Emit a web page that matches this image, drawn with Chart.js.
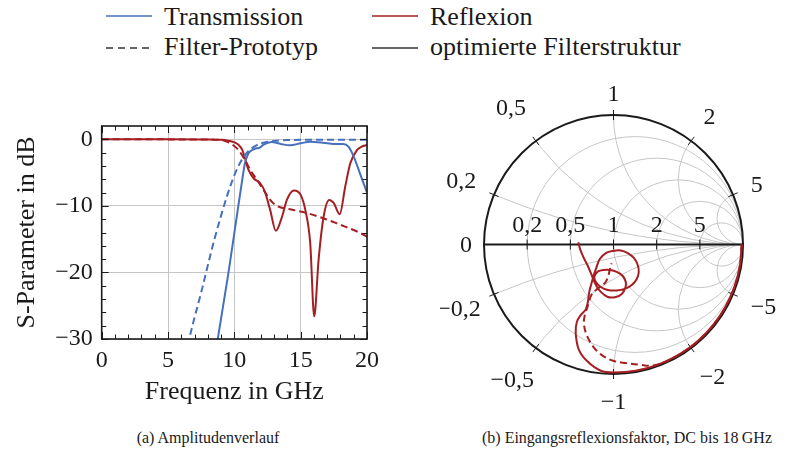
<!DOCTYPE html>
<html>
<head>
<meta charset="utf-8">
<script src="https://cdn.jsdelivr.net/npm/chart.js@4.4.1/dist/chart.umd.min.js"></script>
<style>
  body { margin: 0; width: 786px; height: 454px; background: #fff; position: relative; overflow: hidden;
         font-family: "Liberation Serif", "DejaVu Serif", serif; color: #1a1a1a; }
  canvas { position: absolute; }
  .leg { position: absolute; font-size: 26px; line-height: 26px; white-space: nowrap; }
  .leg svg { position: absolute; left: 0; }
  .leg span { margin-left: 58px; }
  .cap { position: absolute; font-size: 16px; line-height: 16px; white-space: nowrap; transform: translateX(-50%); }
</style>
</head>
<body>

<div class="leg" style="left:106px; top:4px;">
  <svg width="46" height="4" style="top:10px"><line x1="0" y1="2" x2="46" y2="2" stroke="#4670bd" stroke-width="1.4"/></svg>
  <span>Transmission</span>
</div>
<div class="leg" style="left:372px; top:4px;">
  <svg width="46" height="4" style="top:10px"><line x1="0" y1="2" x2="46" y2="2" stroke="#a51e22" stroke-width="1.4"/></svg>
  <span>Reflexion</span>
</div>
<div class="leg" style="left:106px; top:34px;">
  <svg width="46" height="4" style="top:12px"><line x1="0" y1="2" x2="46" y2="2" stroke="#333" stroke-width="1.4" stroke-dasharray="7 5"/></svg>
  <span>Filter-Prototyp</span>
</div>
<div class="leg" style="left:372px; top:34px;">
  <svg width="46" height="4" style="top:12px"><line x1="0" y1="2" x2="46" y2="2" stroke="#333" stroke-width="1.4"/></svg>
  <span>optimierte Filterstruktur</span>
</div>

<canvas id="ampChart" width="400" height="315" style="left:0; top:100px;"></canvas>
<canvas id="smithChart" width="346" height="350" style="left:440px; top:70px;"></canvas>

<div class="cap" style="left:208px; top:430px;">(a) Amplitudenverlauf</div>
<div class="cap" style="left:627px; top:430px;">(b) Eingangsreflexionsfaktor, DC bis 18&#8201;GHz</div>

<script>
// ---- Amplitudenverlauf (dB über GHz) ----
var freqS21Opt = [8.6, 8.75, 9.56, 10.3, 10.6, 10.8, 11.07, 11.45, 11.95, 12.2, 12.8, 13.5, 14.2, 15.0, 15.7, 16.7, 17.5, 18.2, 18.6, 19.0, 19.5, 20.0];
var s21Opt     = [-32, -30, -20, -10, -6, -3.6, -2.1, -1.5, -1.2, -0.8, -0.4, -0.7, -0.9, -0.6, -0.35, -0.5, -0.7, -0.7, -1.1, -2.6, -5.3, -8];

var freqS21Proto = [6.5, 6.6, 7.5, 8.5, 9.5, 10.0, 10.5, 11.0, 11.5, 12.0, 13.0, 14.0, 16.0, 20.0];
var s21Proto     = [-31, -30, -23, -15, -8.2, -5.4, -3.3, -1.9, -1.1, -0.6, -0.25, -0.12, -0.05, -0.05];

var freqS11Opt = [0, 5, 8, 9, 9.5, 10, 10.3, 10.6, 10.8, 11.07, 11.45, 11.95, 12.3, 12.7, 13.13, 13.6, 13.96, 14.5, 15.0, 15.35, 15.72, 16.02, 16.35, 16.73, 17.16, 17.5, 17.94, 18.36, 18.74, 19.25, 19.6, 20];
var s11Opt     = [0, 0, -0.02, -0.08, -0.2, -0.45, -0.8, -1.6, -2.85, -4.6, -5.85, -6.6, -7.85, -10.6, -13.75, -11.6, -9.1, -7.7, -8.35, -10.6, -15.6, -26.6, -18.1, -11.6, -9.1, -9.6, -11.25, -7.1, -3.6, -1.6, -1.1, -0.85];

var freqS11Proto = [0, 8.5, 9.2, 9.7, 10.3, 10.8, 11.2, 11.7, 12.2, 12.7, 13.2, 14.2, 15.5, 16.7, 18.0, 19.25, 20];
var s11Proto     = [0, -0.05, -0.2, -0.6, -1.6, -3.1, -4.6, -6.1, -7.6, -9.1, -10, -10.5, -11.1, -11.85, -12.85, -13.85, -14.6];

var xTicks = [0, 5, 10, 15, 20];
var yTicks = [-30, -20, -10, 0];

// ---- Eingangsreflexionsfaktor (Smith-Diagramm), DC bis 18 GHz ----
var gammaOptRe = [0.99, 0.975, 0.930, 0.857, 0.758, 0.636, 0.495, 0.339, 0.172, 0.0, -0.098, -0.202, -0.268, -0.292, -0.283, -0.252, -0.214, -0.198, -0.187, -0.167, -0.155,
  -0.133, -0.106, -0.059, -0.005, 0.056, 0.110, 0.157, 0.187, 0.195, 0.180, 0.141, 0.087, 0.025, -0.044, -0.098, -0.136,
  -0.148, -0.120, -0.075, -0.025, 0.025, 0.072, 0.095, 0.091, 0.064, 0.018, -0.044, -0.098, -0.136,
  -0.158, -0.175, -0.198, -0.229, -0.256, -0.271];
var gammaOptIm = [0, -0.172, -0.339, -0.495, -0.636, -0.758, -0.857, -0.930, -0.975, -0.988, -0.975, -0.902, -0.811, -0.682, -0.598, -0.544, -0.501, -0.443, -0.366, -0.289, -0.245,
  -0.181, -0.112, -0.066, -0.050, -0.046, -0.066, -0.104, -0.158, -0.212, -0.266, -0.312, -0.343, -0.355, -0.351, -0.328, -0.289,
  -0.248, -0.208, -0.196, -0.197, -0.212, -0.243, -0.289, -0.335, -0.382, -0.405, -0.405, -0.366, -0.312,
  -0.262, -0.220, -0.166, -0.104, -0.042, 0.017];

var gammaProtoRe = [0.99, 0.975, 0.930, 0.857, 0.758, 0.636, 0.495, 0.403, 0.30, 0.20, 0.10, -0.003, -0.093, -0.157, -0.208, -0.229, -0.221, -0.204, -0.170, -0.119, -0.067, -0.042, -0.029, -0.015];
var gammaProtoIm = [0, -0.172, -0.339, -0.495, -0.636, -0.758, -0.857, -0.904, -0.935, -0.928, -0.916, -0.898, -0.852, -0.788, -0.698, -0.608, -0.544, -0.492, -0.389, -0.338, -0.299, -0.248, -0.197, -0.145];

var resistTicks = [0.2, 0.5, 1, 2, 5];
var reactTicks = [0.2, 0.5, 1, 2, 5, -0.2, -0.5, -1, -2, -5];

var blue = '#4670bd';
var red = '#a51e22';
var ink = '#1a1a1a';
var gridGray = '#c6c6c6';
var serif = '"Liberation Serif", "DejaVu Serif", serif';

function pts(xs, ys) {
    return xs.map(function (x, i) { return {x: x, y: ys[i]}; });
}
function num(v) {
    return String(v).replace('.', ',').replace('-', '\u2212');
}

// Rahmen und nach innen zeigende Teilstriche auf allen vier Seiten
var axisFrame = {
    id: 'axisFrame',
    afterDatasetsDraw: function (chart) {
        var ctx = chart.ctx, a = chart.chartArea, x = chart.scales.x, y = chart.scales.y;
        ctx.save();
        ctx.strokeStyle = ink;
        ctx.lineWidth = 1;
        ctx.beginPath();
        for (var f = 0; f <= 20; f += 1) {
            var px = Math.round(x.getPixelForValue(f)) + 0.5;
            var len = f % 5 === 0 ? 7 : 4.5;
            ctx.moveTo(px, a.bottom); ctx.lineTo(px, a.bottom - len);
            ctx.moveTo(px, a.top); ctx.lineTo(px, a.top + len);
        }
        for (var d = -30; d <= 0; d += 2) {
            var py = Math.round(y.getPixelForValue(d)) + 0.5;
            var l2 = d % 10 === 0 ? 7 : 4.5;
            ctx.moveTo(a.left, py); ctx.lineTo(a.left + l2, py);
            ctx.moveTo(a.right, py); ctx.lineTo(a.right - l2, py);
        }
        ctx.stroke();
        ctx.lineWidth = 1.6;
        ctx.strokeRect(a.left, a.top, a.right - a.left, a.bottom - a.top);
        ctx.restore();
    }
};

new Chart(document.getElementById('ampChart'), {
    type: 'line',
    data: {
        datasets: [
            {data: pts(freqS21Proto, s21Proto), borderColor: blue, borderDash: [7, 4]},
            {data: pts(freqS11Proto, s11Proto), borderColor: red, borderDash: [7, 4]},
            {data: pts(freqS21Opt, s21Opt), borderColor: blue},
            {data: pts(freqS11Opt, s11Opt), borderColor: red}
        ]
    },
    options: {
        responsive: false,
        animation: false,
        events: [],
        layout: {padding: {left: 0, right: 33, top: 26, bottom: 0}},
        plugins: {legend: {display: false}, tooltip: {enabled: false}},
        elements: {
            point: {radius: 0},
            line: {borderWidth: 2, cubicInterpolationMode: 'monotone', fill: false}
        },
        scales: {
            x: {
                type: 'linear', min: 0, max: 20,
                afterBuildTicks: function (s) { s.ticks = xTicks.map(function (v) { return {value: v}; }); },
                afterFit: function (s) { s.height = 76; },
                grid: {color: gridGray, lineWidth: 1, drawTicks: false},
                border: {display: false},
                ticks: {padding: 7, color: ink, font: {family: serif, size: 24}, maxRotation: 0, callback: num},
                title: {display: true, text: 'Frequenz in GHz', color: ink, font: {family: serif, size: 26}, padding: {top: 0, bottom: 7}}
            },
            y: {
                type: 'linear', min: -30, max: 2,
                afterBuildTicks: function (s) { s.ticks = yTicks.map(function (v) { return {value: v}; }); },
                afterFit: function (s) { s.width = 101.7; },
                grid: {color: gridGray, lineWidth: 1, drawTicks: false},
                border: {display: false},
                ticks: {padding: 9, color: ink, font: {family: serif, size: 24}, callback: num},
                title: {display: true, text: 'S-Parameter in dB', color: ink, font: {family: serif, size: 26}, padding: {top: 12, bottom: 0}}
            }
        }
    },
    plugins: [axisFrame]
});

// zusätzlicher radialer Abstand einzelner Randbeschriftungen (px)
var labelShift = {'0': -7, '1': -6, '0.5': 11, '-0.5': 9, '-2': 5, '-0.2': -5};

// Smith-Gitter: Widerstandskreise, Reaktanzbögen, Achse, Teilstriche, Beschriftung
var smithGrid = {
    id: 'smithGrid',
    beforeDatasetsDraw: function (chart) {
        var ctx = chart.ctx, x = chart.scales.x, y = chart.scales.y;
        var cx = x.getPixelForValue(0), cy = y.getPixelForValue(0);
        var R = x.getPixelForValue(1) - cx;
        ctx.save();
        ctx.beginPath();
        ctx.arc(cx, cy, R, 0, 2 * Math.PI);
        ctx.clip();
        ctx.strokeStyle = gridGray;
        ctx.lineWidth = 1;
        resistTicks.forEach(function (r) {
            ctx.beginPath();
            ctx.arc(x.getPixelForValue(r / (1 + r)), cy, R / (1 + r), 0, 2 * Math.PI);
            ctx.stroke();
        });
        reactTicks.forEach(function (v) {
            ctx.beginPath();
            ctx.arc(x.getPixelForValue(1), y.getPixelForValue(1 / v), R / Math.abs(v), 0, 2 * Math.PI);
            ctx.stroke();
        });
        ctx.restore();

        ctx.save();
        ctx.strokeStyle = ink;
        ctx.lineWidth = 2;
        ctx.beginPath();
        ctx.arc(cx, cy, R, 0, 2 * Math.PI);
        ctx.stroke();
        ctx.beginPath();
        ctx.moveTo(cx - R, cy); ctx.lineTo(cx + R, cy);
        ctx.stroke();

        ctx.lineWidth = 1;
        ctx.beginPath();
        resistTicks.forEach(function (r) {
            var px = x.getPixelForValue((r - 1) / (r + 1));
            ctx.moveTo(px, cy - 5); ctx.lineTo(px, cy + 5);
        });
        reactTicks.forEach(function (v) {
            var gr = (v * v - 1) / (v * v + 1), gi = 2 * v / (v * v + 1);
            ctx.moveTo(cx + gr * (R - 5), cy - gi * (R - 5));
            ctx.lineTo(cx + gr * (R + 5), cy - gi * (R + 5));
        });
        ctx.stroke();
        ctx.restore();
    },
    afterDraw: function (chart) {
        var ctx = chart.ctx, x = chart.scales.x, y = chart.scales.y;
        var cx = x.getPixelForValue(0), cy = y.getPixelForValue(0);
        var R = x.getPixelForValue(1) - cx;
        ctx.save();
        ctx.fillStyle = ink;
        ctx.font = '24px ' + serif;
        ctx.textAlign = 'center';
        ctx.textBaseline = 'alphabetic';
        resistTicks.forEach(function (r) {
            ctx.fillText(num(r), x.getPixelForValue((r - 1) / (r + 1)), cy - 13);
        });
        ctx.textBaseline = 'middle';
        // Beschriftung außen: Ankerpunkt auf dem Rand des Textkastens in Strahlrichtung
        var labels = [{key: '0', txt: '0', gr: -1, gi: 0}];
        reactTicks.forEach(function (v) {
            labels.push({key: String(v), txt: num(v), gr: (v * v - 1) / (v * v + 1), gi: 2 * v / (v * v + 1)});
        });
        labels.forEach(function (lb) {
            var w = ctx.measureText(lb.txt).width + 6, h = 23, gap = 16 + (labelShift[lb.key] || 0);
            var ca = Math.abs(lb.gr), sa = Math.abs(lb.gi);
            var t = Math.min(ca > 1e-6 ? (w / 2) / ca : 1e9, sa > 1e-6 ? (h / 2) / sa : 1e9);
            var d = R + gap + t;
            ctx.fillText(lb.txt, cx + lb.gr * d, cy - lb.gi * d + 1);
        });
        ctx.restore();
    }
};

new Chart(document.getElementById('smithChart'), {
    type: 'scatter',
    data: {
        datasets: [
            {data: pts(gammaProtoRe, gammaProtoIm), borderColor: red, borderDash: [7, 4]},
            {data: pts(gammaOptRe, gammaOptIm), borderColor: red}
        ]
    },
    options: {
        responsive: false,
        animation: false,
        events: [],
        layout: {padding: {left: 44, top: 45, right: 43, bottom: 46}},
        plugins: {legend: {display: false}, tooltip: {enabled: false}},
        elements: {
            point: {radius: 0},
            line: {borderWidth: 2, tension: 0.35, fill: false}
        },
        datasets: {scatter: {showLine: true}},
        scales: {
            x: {type: 'linear', min: -1, max: 1, display: false},
            y: {type: 'linear', min: -1, max: 1, display: false}
        }
    },
    plugins: [smithGrid]
});
</script>
</body>
</html>
